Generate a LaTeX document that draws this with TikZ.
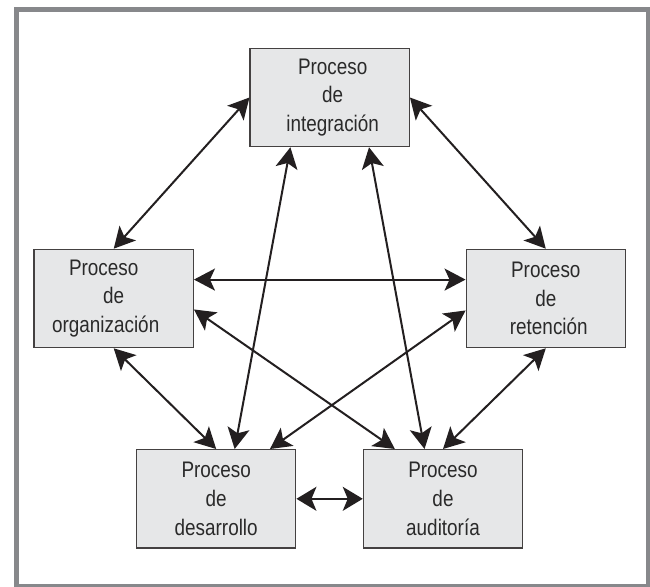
\documentclass[tikz,border=0pt]{standalone}
\usepackage{fontspec}
\setmainfont{Liberation Sans}[FakeStretch=0.84]
\usetikzlibrary{arrows.meta,calc}
\definecolor{framegray}{HTML}{87888B}
\definecolor{boxfill}{HTML}{E6E7E8}
\definecolor{ink}{HTML}{231F20}
\definecolor{txt}{HTML}{2A2A2A}
\begin{document}
\begin{tikzpicture}[x=1pt,y=-1pt,
  procbox/.style={draw=ink!85, line width=1.2pt, fill=boxfill, minimum width=159.3pt, minimum height=98.4pt,
    inner sep=0pt, align=center, font=\fontsize{22.5}{28.7}\selectfont, text=txt},
  link/.style={draw=ink, line width=2pt, {Stealth[length=21pt,width=22pt,inset=5pt]}-{Stealth[length=21pt,width=22pt,inset=5pt]}},
  shortlink/.style={draw=ink, line width=1.6pt, {Stealth[length=20pt,width=24pt,inset=5pt]}-{Stealth[length=20pt,width=24pt,inset=5pt]}}]
\useasboundingbox (0,0) rectangle (650,586);
\begin{scope}
\clip (0,0) rectangle (650,586);
\fill[white] (0,0) rectangle (650,586);
\draw[framegray, line width=5pt] (16,9.5) rectangle (648.5,586.5);
\end{scope}

\node[procbox] (integ) at (329.7,97.5) {\hspace*{6pt}Proceso\\\hspace*{6pt}de\\\hspace*{6pt}integración};
\node[procbox] (org) at (113.7,298.5) {Proceso\hspace*{20pt}\\de\hspace*{26pt}\\organización\hspace*{16pt}};
\node[procbox] (ret) at (545.8,298.5) {Proceso\\de\\\hspace*{6pt}retención};
\node[procbox] (des) at (216.2,498.8) {Proceso\\de\\desarrollo};
\node[procbox] (aud) at (443,498.8) {Proceso\\de\\auditoría};

\draw[link] (integ.west) -- (org.north);
\draw[link] (integ.east) -- (ret.north);
\draw[link] ($(integ.south west)!0.255!(integ.south east)$) -- ($(des.north west)!0.615!(des.north east)$);
\draw[link] ($(integ.south west)!0.745!(integ.south east)$) -- ($(aud.north west)!0.385!(aud.north east)$);
\draw[link] ($(org.north east)!0.31!(org.south east)$) -- ($(ret.north west)!0.31!(ret.south west)$);
\draw[link] ($(org.north east)!0.61!(org.south east)$) -- ($(aud.north west)!0.2!(aud.north east)$);
\draw[link] ($(ret.north west)!0.62!(ret.south west)$) -- ($(des.north west)!0.835!(des.north east)$);
\draw[link] (org.south) -- (des.north);
\draw[link] (ret.south) -- (aud.north);
\draw[shortlink] (des.east) -- (aud.west);
\end{tikzpicture}
\end{document}
